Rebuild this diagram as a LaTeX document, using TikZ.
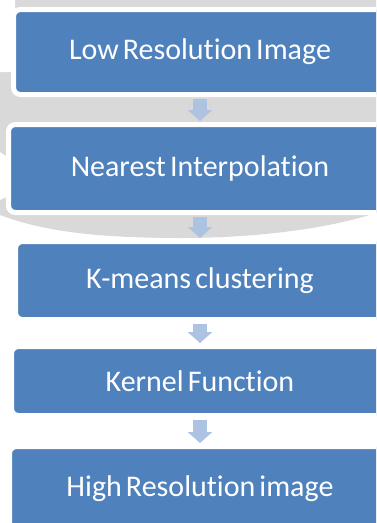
\documentclass[tikz,border=0pt]{standalone}
\usepackage{fontspec}
\setmainfont{Carlito}[Ligatures=NoCommon, WordSpace=0.6]
\usetikzlibrary{arrows.meta}
\definecolor{boxblue}{RGB}{79,129,189}
\definecolor{arrowblue}{RGB}{174,194,225}
\definecolor{wmgray}{RGB}{217,217,217}
\newcommand{\stagebox}[5]{\node[stagebox, minimum width=#3pt, minimum height=#4pt] (#1) at (200,#2) {#5};}
\tikzset{
  stagebox/.style={rectangle, rounded corners=7pt, fill=boxblue, draw=white, line width=5pt,
    inner sep=0pt, text=white, font=\fontsize{30}{34}\selectfont},
  flowarrow/.style={draw=arrowblue, line width=14pt, shorten <=2pt, shorten >=1pt,
    -{Triangle[width=24pt, length=11pt]}}
}

\begin{document}
\begin{tikzpicture}[x=1pt, y=1pt]
\useasboundingbox (0,0) rectangle (376,-523);
\clip (0,0) rectangle (376,-523);
% watermark behind the upper boxes
\fill[wmgray] (0,0) -- (376,0) -- (376,-213) .. controls (330,-228) and (260,-238) .. (180,-238)
    .. controls (90,-238) and (40,-230) .. (0,-215) -- cycle;
\fill[white] (0,0) -- (15,0) -- (15,-66) .. controls (15,-70) .. (11,-72) -- (0,-72) -- cycle;
\fill[white] (0,-152) -- (12,-160) -- (12,-194) -- (0,-200) -- cycle;
% stages
\stagebox{low}{-52}{373}{85}{Low Resolution Image}
\stagebox{near}{-168.5}{383}{88}{Nearest Interpolation}
\stagebox{kmeans}{-280.5}{369}{78}{K-means clustering}
\stagebox{kernel}{-381}{377}{69}{Kernel Function}
\stagebox{high}{-489}{381}{85}{High Resolution image}
\foreach \a/\b in {low/near,near/kmeans,kmeans/kernel,kernel/high}{
  \draw[flowarrow] (\a.south) -- (\b.north);
}
\end{tikzpicture}
\end{document}
